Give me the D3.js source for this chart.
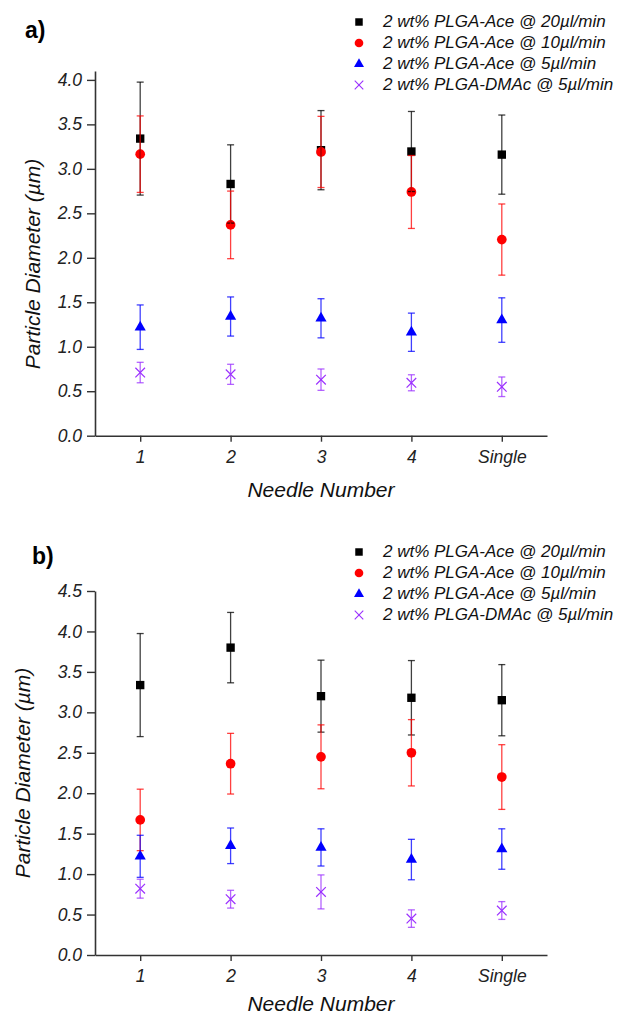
<!DOCTYPE html>
<html>
<head>
<meta charset="utf-8">
<script src="https://cdn.jsdelivr.net/npm/d3@7"></script>
<style>
    body { margin: 0; background: #fff; }
    text { font-family: "Liberation Sans", Arial, sans-serif; }
</style>
</head>
<body>
<div id="chart"></div>
<script>

    const WIDTH = 617;
    const HEIGHT = 1017;

    // categories and legend
    const categories = ["1", "2", "3", "4", "Single"];
    const seriesLabels = [
        "2 wt% PLGA-Ace @ 20µl/min",
        "2 wt% PLGA-Ace @ 10µl/min",
        "2 wt% PLGA-Ace @ 5µl/min",
        "2 wt% PLGA-DMAc @ 5µl/min"
    ];
    const yTicksA = [0, 0.5, 1, 1.5, 2, 2.5, 3, 3.5, 4];
    const yTicksB = [0, 0.5, 1, 1.5, 2, 2.5, 3, 3.5, 4, 4.5];

    // panel a) means and error (+/-)
    const a_ace20 = [3.34, 2.83, 3.21, 3.195, 3.16];
    const a_ace20_err = [0.635, 0.44, 0.445, 0.45, 0.445];
    const a_ace10 = [3.165, 2.37, 3.19, 2.74, 2.205];
    const a_ace10_err = [0.43, 0.38, 0.40, 0.41, 0.40];
    const a_ace5 = [1.22, 1.34, 1.32, 1.163, 1.30];
    const a_ace5_err = [0.25, 0.22, 0.22, 0.215, 0.25];
    const a_dmac5 = [0.71, 0.69, 0.63, 0.595, 0.55];
    const a_dmac5_err = [0.115, 0.113, 0.12, 0.09, 0.11];

    // panel b)
    const b_ace20 = [3.337, 3.80, 3.20, 3.18, 3.15];
    const b_ace20_err = [0.637, 0.435, 0.445, 0.46, 0.44];
    const b_ace10 = [1.67, 2.365, 2.45, 2.50, 2.20];
    const b_ace10_err = [0.38, 0.375, 0.395, 0.41, 0.40];
    const b_ace5 = [1.22, 1.35, 1.33, 1.18, 1.31];
    const b_ace5_err = [0.26, 0.22, 0.23, 0.25, 0.25];
    const b_dmac5 = [0.82, 0.69, 0.78, 0.45, 0.55];
    const b_dmac5_err = [0.117, 0.11, 0.21, 0.108, 0.11];

    const COLORS = ["#000000", "#ff0000", "#0000ff", "#9b30ff"];
    const SYMBOLS = [d3.symbolSquare, d3.symbolCircle, d3.symbolTriangle, d3.symbolTimes];
    const SIZES = [70, 74, 54, 62];

    var svg = d3.select("#chart").append("svg")
        .attr("width", WIDTH)
        .attr("height", HEIGHT);

    function drawPanel(opt) {
        var g = svg.append("g");

        var x = d3.scalePoint()
            .domain(categories)
            .range([95, 547])
            .padding(0.5);

        var y = d3.scaleLinear()
            .domain([0, opt.yMax])
            .range([opt.bottom, opt.top]);

        // y axis
        var yAxis = g.append("g")
            .attr("transform", "translate(95,0)")
            .call(d3.axisLeft(y)
                .tickValues(opt.yTicks)
                .tickFormat(d3.format(".1f"))
                .tickSize(8)
                .tickSizeOuter(0)
                .tickPadding(5));

        // x axis
        var xAxis = g.append("g")
            .attr("transform", "translate(0," + opt.bottom + ")")
            .call(d3.axisBottom(x)
                .tickSize(6)
                .tickSizeOuter(0)
                .tickPadding(9));

        [yAxis, xAxis].forEach(function (ax) {
            ax.select(".domain").attr("stroke", "#333").attr("stroke-width", 1.6);
            ax.selectAll(".tick line").attr("stroke", "#333").attr("stroke-width", 1.4);
            ax.selectAll(".tick text")
                .attr("fill", "#222")
                .attr("font-size", 17.5)
                .attr("font-style", "italic")
                .attr("font-family", "Liberation Sans, Arial, sans-serif");
        });

        // axis titles
        g.append("text")
            .attr("transform", "translate(" + opt.yTitleX + "," + opt.yTitleY + ") rotate(-90)")
            .attr("text-anchor", "middle")
            .attr("font-size", 21)
            .attr("font-style", "italic")
            .attr("fill", "#111")
            .text("Particle Diameter (µm)");

        g.append("text")
            .attr("x", 321)
            .attr("y", opt.xTitleY)
            .attr("text-anchor", "middle")
            .attr("font-size", 21)
            .attr("font-style", "italic")
            .attr("fill", "#111")
            .text("Needle Number");

        // panel letter
        g.append("text")
            .attr("x", opt.letterX)
            .attr("y", opt.letterY)
            .attr("font-size", 23)
            .attr("font-weight", "bold")
            .attr("fill", "#000")
            .text(opt.letter);

        // markers
        opt.series.forEach(function (s, k) {
            g.selectAll(null)
                .data(s.mean)
                .enter().append("path")
                .attr("transform", function (d, i) { return "translate(" + x(categories[i]) + "," + y(d) + ")"; })
                .attr("d", d3.symbol().type(SYMBOLS[k]).size(SIZES[k]))
                .attr("fill", k == 3 ? "none" : COLORS[k])
                .attr("stroke", k == 3 ? COLORS[k] : "none")
                .attr("stroke-width", 1.2);
        });

        // error bars on top
        opt.series.forEach(function (s, k) {
            s.mean.forEach(function (m, i) {
                var cx = x(categories[i]);
                var hi = y(m + s.err[i]);
                var lo = y(m - s.err[i]);
                var eb = g.append("g")
                    .attr("stroke", COLORS[k])
                    .attr("stroke-opacity", 0.75)
                    .attr("stroke-width", 1.3);
                eb.append("line").attr("x1", cx).attr("x2", cx).attr("y1", hi).attr("y2", lo);
                eb.append("line").attr("x1", cx - 3.5).attr("x2", cx + 3.5).attr("y1", hi).attr("y2", hi);
                eb.append("line").attr("x1", cx - 3.5).attr("x2", cx + 3.5).attr("y1", lo).attr("y2", lo);
            });
        });

        // legend
        seriesLabels.forEach(function (label, k) {
            var by = opt.legendY + k * 21;
            g.append("path")
                .attr("transform", "translate(359," + (by - 5) + ")")
                .attr("d", d3.symbol().type(SYMBOLS[k]).size(SIZES[k] * 0.8))
                .attr("fill", k == 3 ? "none" : COLORS[k])
                .attr("stroke", k == 3 ? COLORS[k] : "none")
                .attr("stroke-width", 1.1);
            g.append("text")
                .attr("x", 383)
                .attr("y", by)
                .attr("font-size", 17)
                .attr("font-style", "italic")
                .attr("fill", "#111")
                .text(label);
        });
    }

    drawPanel({
        letter: "a)", letterX: 25, letterY: 38,
        top: 71, bottom: 435.7, yMax: 4.1, yTicks: yTicksA,
        yTitleX: 40, yTitleY: 264, xTitleY: 497,
        legendY: 27,
        series: [
            { mean: a_ace20, err: a_ace20_err },
            { mean: a_ace10, err: a_ace10_err },
            { mean: a_ace5, err: a_ace5_err },
            { mean: a_dmac5, err: a_dmac5_err }
        ]
    });

    drawPanel({
        letter: "b)", letterX: 32, letterY: 564,
        top: 591, bottom: 955, yMax: 4.5, yTicks: yTicksB,
        yTitleX: 30, yTitleY: 773, xTitleY: 1011,
        legendY: 557,
        series: [
            { mean: b_ace20, err: b_ace20_err },
            { mean: b_ace10, err: b_ace10_err },
            { mean: b_ace5, err: b_ace5_err },
            { mean: b_dmac5, err: b_dmac5_err }
        ]
    });

</script>
</body>
</html>
